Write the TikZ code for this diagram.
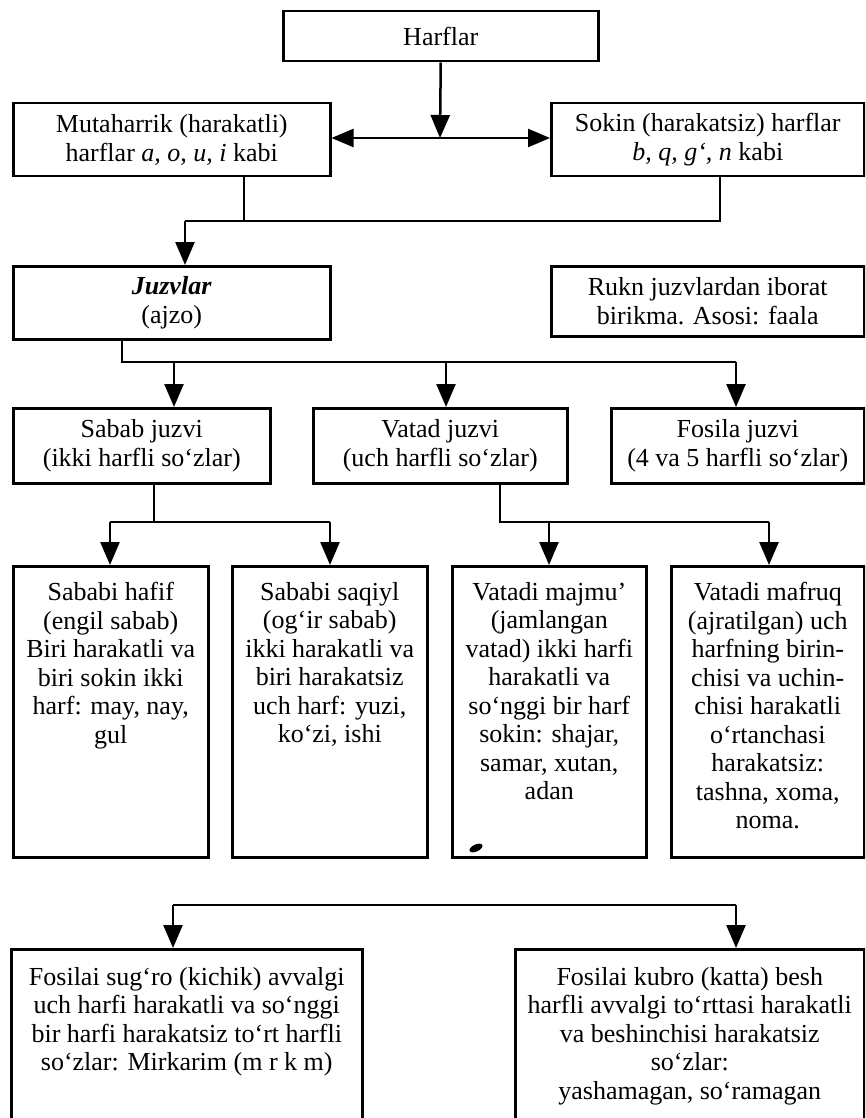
\documentclass[tikz,border=0pt]{standalone}
\usepackage{fontspec}
\setmainfont{Liberation Serif}
\usetikzlibrary{arrows.meta,calc}
\tikzset{
  box/.style={draw, line width=2.5pt, inner sep=0pt, anchor=north west, align=center,
    font=\fontsize{26}{28.5}\selectfont},
  txt/.style={inner sep=0pt, anchor=north, align=center,
    font=\fontsize{26}{28.5}\selectfont},
  conn/.style={line width=2.5pt},
  arr/.style={conn, -{Triangle[length=23pt,width=19pt]}},
  darr/.style={conn, {Triangle[length=22pt,width=18pt]}-{Triangle[length=22pt,width=18pt]}},
}
\begin{document}
\begin{tikzpicture}[x=1pt,y=-1pt]
\useasboundingbox (0,0) rectangle (865,1118);
\fill[white] (0,0) rectangle (865,1118);
\clip (0,0) rectangle (865,1118);

% row 1
\node[box, minimum width=315pt, minimum height=50pt] (harf) at (282,10) {Harflar};
% row 2
\node[box, minimum width=317pt, minimum height=73pt] (mut) at (12,102)
  {Mutaharrik (harakatli)\\harflar \textit{a, o, u, i} kabi};
\node[box, minimum width=313pt, minimum height=73pt] (sok) at (550,102)
  {Sokin (harakatsiz) harflar\\\textit{b, q, g‘, n} kabi};
% row 3
\node[box, minimum width=317pt, minimum height=73pt] (juz) at (12,265)
  {\textbf{\textit{Juzvlar}}\\(ajzo)};
\node[box, minimum width=313pt, minimum height=70pt] (rukn) at (550,265)
  {Rukn juzvlardan iborat\\birikma. Asosi: faala};
% row 4
\node[box, minimum width=257pt, minimum height=75pt] (sab) at (12,407)
  {Sabab juzvi\\(ikki harfli so‘zlar)};
\node[box, minimum width=254pt, minimum height=75pt] (vat) at (312,407)
  {Vatad juzvi\\(uch harfli so‘zlar)};
\node[box, minimum width=253pt, minimum height=75pt] (fos) at (610,407)
  {Fosila juzvi\\(4 va 5 harfli so‘zlar)};
% row 5
\node[box, minimum width=195pt, minimum height=291pt] (h1) at (12,565) {};
\node[box, minimum width=195pt, minimum height=291pt] (h2) at (231,565) {};
\node[box, minimum width=194pt, minimum height=291pt] (v1) at (451,565) {};
\node[box, minimum width=193pt, minimum height=291pt] (v2) at (670,565) {};
\node[txt] (th1) at ($(h1.north)+(0,17)$) {Sababi hafif\\(engil sabab)\\Biri harakatli va\\biri sokin ikki\\harf: may, nay,\\gul};
\node[txt] (th2) at ($(h2.north)+(0,17)$) {Sababi saqiyl\\(og‘ir sabab)\\ikki harakatli va\\biri harakatsiz\\uch harf: yuzi,\\ko‘zi, ishi};
\node[txt] (tv1) at ($(v1.north)+(0,17)$) {Vatadi majmu’\\(jamlangan\\vatad) ikki harfi\\harakatli va\\so‘nggi bir harf\\sokin: shajar,\\samar, xutan,\\adan};
\node[txt] (tv2) at ($(v2.north)+(0,17)$) {Vatadi mafruq\\(ajratilgan) uch\\harfning birin-\\chisi va uchin-\\chisi harakatli\\o‘rtanchasi\\harakatsiz:\\tashna, xoma,\\noma.};
% row 6
\node[box, minimum width=351pt, minimum height=200pt] (f1) at (10,948) {};
\node[box, minimum width=349pt, minimum height=200pt] (f2) at (514,948) {};
\node[txt] (tf1) at ($(f1.north)+(0,19)$) {Fosilai sug‘ro (kichik) avvalgi\\uch harfi harakatli va so‘nggi\\bir harfi harakatsiz to‘rt harfli\\so‘zlar: Mirkarim (m r k m)};
\node[txt] (tf2) at ($(f2.north)+(0,19)$) {Fosilai kubro (katta) besh\\harfli avvalgi to‘rttasi harakatli\\va beshinchisi harakatsiz\\so‘zlar:\\yashamagan, so‘ramagan};

% connectors: Harflar
\coordinate (hm) at (440,138);
\draw[arr] (harf.south) -- (hm);
\draw[darr] (mut.east |- hm) -- (sok.west |- hm);
% to Juzvlar
\coordinate (mj) at (244,221);
\coordinate (jr) at (720,221);
\coordinate (ja) at (185,221);
\draw[conn] (mut.south -| mj) -- (mj);
\draw[conn] (sok.south -| jr) -- (jr) -- (ja);
\draw[arr] (ja) -- (juz.north -| ja);
% Juzvlar to row 4
\coordinate (jb) at (122,362);
\coordinate (s1) at (174,362);
\coordinate (s2) at (446,362);
\coordinate (s3) at (736,362);
\draw[conn] (juz.south -| jb) -- (jb) -- (s3);
\draw[arr] (s1) -- (sab.north -| s1);
\draw[arr] (s2) -- (vat.north -| s2);
\draw[arr] (s3) -- (fos.north -| s3);
% Sabab to row 5
\coordinate (sb) at (154,522);
\coordinate (sl) at (110,522);
\coordinate (sr) at (330,522);
\draw[conn] (sab.south -| sb) -- (sb);
\draw[conn] (sl) -- (sr);
\draw[arr] (sl) -- (h1.north -| sl);
\draw[arr] (sr) -- (h2.north -| sr);
% Vatad to row 5
\coordinate (vb) at (500,522);
\coordinate (vl) at (549,522);
\coordinate (vr) at (769,522);
\draw[conn] (vat.south -| vb) -- (vb) -- (vr);
\draw[arr] (vl) -- (v1.north -| vl);
\draw[arr] (vr) -- (v2.north -| vr);
% Fosila subtypes
\coordinate (fl) at (173,905);
\coordinate (fr) at (736,905);
\draw[conn] (fl) -- (fr);
\draw[arr] (fl) -- (f1.north -| fl);
\draw[arr] (fr) -- (f2.north -| fr);

% ink blot
\fill[rotate around={25:(476,848)}] (476,848) ellipse [x radius=7pt, y radius=3.5pt];
\end{tikzpicture}
\end{document}
